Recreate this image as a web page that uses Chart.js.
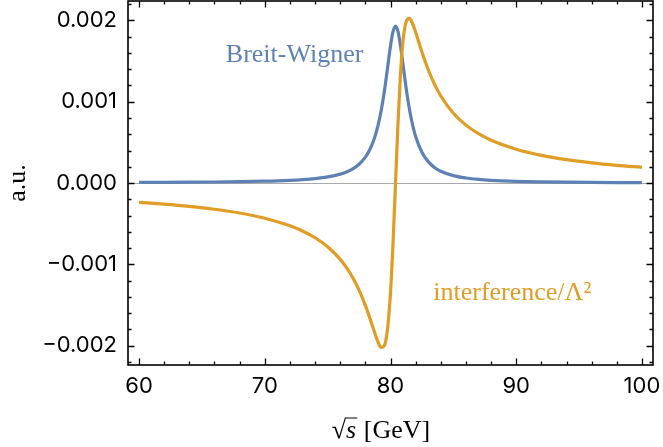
<!DOCTYPE html>
<html>
<head>
<meta charset="utf-8">
<script src="https://cdn.jsdelivr.net/npm/chart.js@4.4.0/dist/chart.umd.min.js"></script>
<style>
  html, body { margin: 0; padding: 0; background: #fff; }
  #wrap { width: 663px; height: 447px; }
</style>
</head>
<body>
<div id="wrap"><canvas id="chart" width="663" height="447"></canvas></div>
<script>
// sqrt(s) in GeV
const energies = [
  60, 62, 64, 66, 68, 70, 72, 73, 74, 75, 76, 76.5, 77, 77.5, 78, 78.25, 78.5, 78.75,
  79, 79.25, 79.5, 79.75, 80, 80.2, 80.4, 80.6, 80.8, 81, 81.25, 81.5, 81.75, 82,
  82.5, 83, 83.5, 84, 85, 86, 87, 88, 90, 92, 94, 96, 98, 100
];
const breitWigner = [
  0.0000067, 0.0000080, 0.0000098, 0.0000123, 0.0000161, 0.0000222, 0.0000330, 0.0000418,
  0.0000547, 0.0000751, 0.0001096, 0.0001366, 0.0001747, 0.0002310, 0.0003180, 0.0003798,
  0.0004598, 0.0005645, 0.0007026, 0.0008843, 0.0011178, 0.0013984, 0.0016865, 0.0018626,
  0.0019300, 0.0018623, 0.0016843, 0.0014523, 0.0011611, 0.0009136, 0.0007199, 0.0005730,
  0.0003781, 0.0002632, 0.0001919, 0.0001453, 0.0000906, 0.0000614, 0.0000440, 0.0000330,
  0.0000203, 0.0000137, 0.0000097, 0.0000072, 0.0000056, 0.0000044
];
const interference = [
  -0.0002385, -0.0002605, -0.0002880, -0.0003231, -0.0003694, -0.0004332, -0.0005263, -0.0005908,
  -0.0006739, -0.0007851, -0.0009397, -0.0010410, -0.0011650, -0.0013180, -0.0015060, -0.0016140,
  -0.0017300, -0.0018470, -0.0019540, -0.0020230, -0.0020040, -0.0018140, -0.0013480, -0.0007454,
  0, 0.0007471, 0.0013532, 0.0017522, 0.0019877, 0.0020271, 0.0019634, 0.0018549,
  0.0016113, 0.0013934, 0.0012150, 0.0010711, 0.0008587, 0.0007122, 0.0006063, 0.0005265,
  0.0004146, 0.0003404, 0.0002876, 0.0002482, 0.0002177, 0.0001934
];
const xTickValues = [60, 70, 80, 90, 100];
const yTickValues = [-0.002, -0.001, 0, 0.001, 0.002];

const blue = '#5e81b5';
const orange = '#e19c24';
const tickFont = { family: 'Inter', size: 22 };
const serif = '"Liberation Serif", serif';

function toPoints(values) {
  return energies.map((e, i) => ({ x: e, y: values[i] }));
}

// frame, inward ticks, axis title and curve labels
const framePlugin = {
  id: 'frame',
  afterDraw(chart) {
    const { ctx, chartArea: a, scales: { x, y } } = chart;
    ctx.save();
    ctx.strokeStyle = '#000';
    ctx.lineWidth = 1.6;
    ctx.strokeRect(a.left, a.top, a.right - a.left, a.bottom - a.top);

    ctx.lineWidth = 1.3;
    ctx.beginPath();
    for (let v = 60; v <= 100; v += 2) {
      const px = Math.round(x.getPixelForValue(v)) + 0.5;
      const len = v % 10 === 0 ? 6.5 : 3.5;
      ctx.moveTo(px, a.bottom); ctx.lineTo(px, a.bottom - len);
      ctx.moveTo(px, a.top); ctx.lineTo(px, a.top + len);
    }
    for (let i = -11; i <= 11; i++) {
      const py = Math.round(y.getPixelForValue(i * 0.0002)) + 0.5;
      if (py < a.top || py > a.bottom) continue;
      const len = i % 5 === 0 ? 6.5 : 3.5;
      ctx.moveTo(a.left, py); ctx.lineTo(a.left + len, py);
      ctx.moveTo(a.right, py); ctx.lineTo(a.right - len, py);
    }
    ctx.stroke();

    // x axis title: sqrt(s) [GeV]
    ctx.fillStyle = '#000';
    ctx.textBaseline = 'alphabetic';
    ctx.textAlign = 'left';
    const up = '26px ' + serif, it = 'italic 26px ' + serif;
    ctx.font = up; const wRoot = ctx.measureText('\u221A').width;
    ctx.font = it; const wS = ctx.measureText('s').width + 1;
    ctx.font = up; const wRest = ctx.measureText(' [GeV]').width;
    const tx = 381 - (wRoot + wS + wRest) / 2;
    const base = 438;
    ctx.font = up; ctx.fillText('\u221A', tx, base);
    ctx.lineWidth = 1;
    ctx.beginPath();
    ctx.moveTo(tx + wRoot - 1, base - 20);
    ctx.lineTo(tx + wRoot + wS, base - 20);
    ctx.stroke();
    ctx.font = it; ctx.fillText('s', tx + wRoot, base);
    ctx.font = up; ctx.fillText(' [GeV]', tx + wRoot + wS, base);

    // curve labels
    ctx.font = '26px ' + serif;
    ctx.fillStyle = blue;
    ctx.fillText('Breit-Wigner', x.getPixelForValue(66.9), y.getPixelForValue(0.00149));
    ctx.fillStyle = orange;
    ctx.fillText('interference/\u039B\u00B2', x.getPixelForValue(83.4), y.getPixelForValue(-0.00144));
    ctx.restore();
  }
};

const chart = new Chart(document.getElementById('chart'), {
  type: 'line',
  data: {
    datasets: [
      {
        label: 'interference',
        data: toPoints(interference),
        borderColor: orange,
        borderWidth: 3.2,
        pointRadius: 0,
        cubicInterpolationMode: 'monotone',
        fill: false,
        order: 0
      },
      {
        label: 'Breit-Wigner',
        data: toPoints(breitWigner),
        borderColor: blue,
        borderWidth: 3.2,
        pointRadius: 0,
        cubicInterpolationMode: 'monotone',
        fill: false,
        order: 1
      }
    ]
  },
  options: {
    responsive: false,
    animation: false,
    layout: { padding: { top: 1, right: 10, left: 0, bottom: 0 } },
    plugins: { legend: { display: false }, tooltip: { enabled: false } },
    scales: {
      x: {
        type: 'linear',
        min: 59.12,
        max: 100.88,
        afterBuildTicks: scale => { scale.ticks = xTickValues.map(v => ({ value: v })); },
        afterFit: scale => { scale.height = 82; scale.paddingLeft = 0; scale.paddingRight = 0; },
        ticks: { color: '#000', font: tickFont, padding: 8, callback: v => String(v) },
        grid: { display: false, drawTicks: false },
        border: { display: false }
      },
      y: {
        type: 'linear',
        min: -0.00224,
        max: 0.00224,
        afterBuildTicks: scale => { scale.ticks = yTickValues.map(v => ({ value: v })); },
        afterFit: scale => { scale.width = 128; scale.paddingTop = 0; scale.paddingBottom = 0; },
        ticks: {
          color: '#000',
          font: tickFont,
          padding: 11,
          callback: v => (v < 0 ? '\u2212' : '') + Math.abs(v).toFixed(3)
        },
        grid: {
          drawTicks: false,
          color: c => (c.tick && c.tick.value === 0 ? '#aaaaaa' : 'rgba(0,0,0,0)'),
          lineWidth: 1
        },
        border: { display: false },
        title: {
          display: true,
          text: 'a.u.',
          color: '#000',
          font: { family: serif, size: 26 },
          padding: { top: 3 }
        }
      }
    }
  },
  plugins: [framePlugin]
});
</script>
</body>
</html>
